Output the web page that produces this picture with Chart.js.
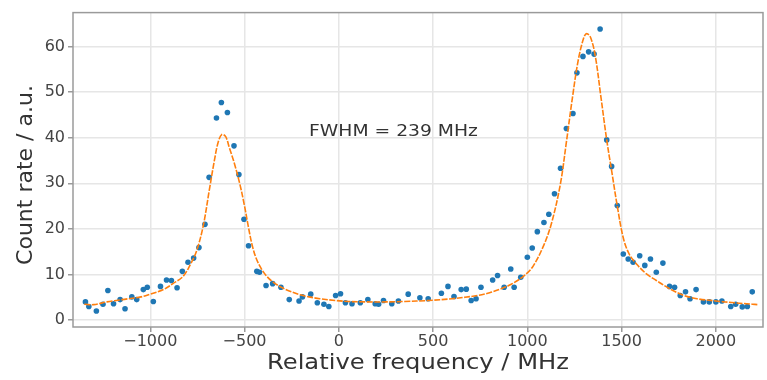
<!DOCTYPE html>
<html>
<head>
<meta charset="utf-8">
<script src="https://cdn.jsdelivr.net/npm/chart.js@4/dist/chart.umd.min.js"></script>
<style>
html,body{margin:0;padding:0;background:#fff;}
#wrap{width:767px;height:380px;}
</style>
</head>
<body>
<div id="wrap"><canvas id="c" width="767" height="380"></canvas></div>
<script>
// Measured data points (frequency in MHz, count rate in a.u.)
const measFreq = [-1344,-1326,-1286,-1251,-1225,-1195,-1160,-1134,-1098,-1072,-1037,-1016,-984,-946,-914,-888,-858,-830,-800,-770,-742,
  -710,-688,-649,-623,-591,-556,-530,-503,-479,-435,-421,-386,-351,-307,-263,-211,-193,-149,-114,-79,-53,-17,9,35,70,114,154,193,
  211,237,281,316,368,430,474,544,579,611,649,676,702,728,754,816,842,877,912,930,965,1000,1026,1053,1088,1114,1144,1176,1207,1242,
  1263,1295,1325,1354,1386,1421,1447,1477,1509,1535,1561,1596,1623,1653,1684,1719,1754,1781,1811,1839,1863,1895,1934,1965,2000,2032,
  2079,2105,2140,2167,2193];
const measRate = [4.0,3.0,2.0,3.5,6.5,3.6,4.5,2.5,5.1,4.5,6.7,7.2,4.1,7.4,8.8,8.7,7.1,10.7,12.7,13.6,15.9,
  21.0,31.3,44.3,47.7,45.5,38.2,31.9,22.1,16.3,10.7,10.5,7.6,8.0,7.2,4.5,4.2,5.1,5.7,3.8,3.5,3.0,5.4,5.8,3.8,3.6,3.8,4.5,3.6,
  3.5,4.3,3.6,4.2,5.7,4.9,4.7,5.9,7.4,5.2,6.7,6.8,4.3,4.7,7.2,8.8,9.8,7.2,11.2,7.2,9.4,13.8,15.8,19.4,21.4,23.2,27.7,33.3,42.0,45.3,
  54.2,57.8,58.8,58.3,63.8,39.5,33.7,25.1,14.5,13.4,12.7,14.1,12.0,13.4,10.5,12.5,7.4,7.2,5.4,6.2,4.7,6.7,4.0,4.0,4.0,4.2,
  3.0,3.5,2.9,3.0,6.2];

// Fitted curve
const fitFreq = [-1350,-1300,-1230,-1150,-1050,-1000,-930,-880,-826,-790,-756,-720,-685,-660,-640,-620,-600,-580,-555,-526,-500,
  -480,-460,-438,-410,-386,-351,-300,-263,-200,-158,-100,-17,50,150,250,350,474,600,737,800,850,912,982,1030,1088,1130,1176,1207,
  1240,1270,1300,1315,1335,1360,1390,1421,1450,1477,1509,1540,1579,1630,1684,1750,1825,1900,2000,2100,2193,2220];
const fitRate = [3.5,3.4,4.0,4.5,5.1,5.7,6.7,8.0,9.6,12.0,15.0,20.5,29,35,39,40.7,40.2,37.7,34.5,30,25,
  20.5,16.5,13.5,11.2,9.8,8.4,7.1,6.4,5.5,5.1,4.7,4.3,4.1,4.0,4.0,4.1,4.3,4.7,5.4,6.0,6.7,7.8,9.7,11.8,16.5,21.5,30,39,
  49,57,62,62.8,62,58,49,39.5,32,25,18,14.5,12.3,10.2,8.7,7.0,5.5,4.7,4.2,3.8,3.5,3.4];

const xTicks = [-1000,-500,0,500,1000,1500,2000];
const yTicks = [0,10,20,30,40,50,60];
const xRange = [-1410,2250];
const yRange = [-1.5,67.4];
const xTitle = 'Relative frequency / MHz';
const yTitle = 'Count rate / a.u.';
const annotationText = 'FWHM = 239 MHz';
const annotationAt = [290, 41.3];

const fmt = v => String(v).replace('-', '\u2212');

function stretchedText(ctx, text, x, y, sx) {
  ctx.save();
  ctx.translate(x, y);
  ctx.scale(sx, 1);
  ctx.fillText(text, 0, 0);
  ctx.restore();
}

const framePlugin = {
  id: 'frame',
  afterDraw(chart) {
    const {ctx, chartArea: a, scales} = chart;
    ctx.save();
    ctx.strokeStyle = '#9a9a9a';
    ctx.lineWidth = 1.5;
    ctx.strokeRect(a.left, a.top, a.right - a.left, a.bottom - a.top);
    ctx.fillStyle = '#333';
    ctx.textAlign = 'center';
    // annotation
    ctx.font = '16px "DejaVu Sans"';
    ctx.textBaseline = 'middle';
    stretchedText(ctx, annotationText, scales.x.getPixelForValue(annotationAt[0]), scales.y.getPixelForValue(annotationAt[1]), 1.17);
    // x axis title
    ctx.font = '22px "DejaVu Sans"';
    ctx.textBaseline = 'alphabetic';
    stretchedText(ctx, xTitle, (a.left + a.right) / 2, 369, 1.1);
    // y axis title (rotated)
    ctx.save();
    ctx.translate(32, 175);
    ctx.rotate(-Math.PI / 2);
    ctx.fillText(yTitle, 0, 0);
    ctx.restore();
    ctx.restore();
  }
};

new Chart(document.getElementById('c'), {
  type: 'scatter',
  data: {
    datasets: [
      {
        label: 'fit',
        type: 'line',
        data: fitFreq.map((f, i) => ({x: f, y: fitRate[i]})),
        borderColor: '#ff7f0e',
        borderWidth: 1.6,
        borderDash: [6, 1.5],
        pointRadius: 0,
        tension: 0.35,
        fill: false,
        order: 1
      },
      {
        label: 'data',
        data: measFreq.map((f, i) => ({x: f, y: measRate[i]})),
        backgroundColor: '#1f77b4',
        borderColor: '#1f77b4',
        pointRadius: 2.8,
        pointBorderWidth: 0,
        order: 2
      }
    ]
  },
  options: {
    responsive: false,
    animation: false,
    devicePixelRatio: 1,
    layout: {padding: {left: 0, right: 0, top: 10, bottom: 0}},
    plugins: {legend: {display: false}, tooltip: {enabled: false}},
    scales: {
      x: {
        type: 'linear',
        min: xRange[0], max: xRange[1],
        afterBuildTicks: s => { s.ticks = xTicks.map(v => ({value: v})); },
        afterFit: s => { s.height = 53; },
        grid: {color: '#e6e6e6', lineWidth: 1.5, tickLength: 5, tickColor: '#9a9a9a', drawTicks: true},
        border: {display: false},
        ticks: {color: '#444', font: {family: 'DejaVu Sans', size: 16}, padding: 0, maxRotation: 0, callback: v => fmt(v)},
        title: {display: false, text: xTitle}
      },
      y: {
        type: 'linear',
        min: yRange[0], max: yRange[1],
        afterBuildTicks: s => { s.ticks = yTicks.map(v => ({value: v})); },
        afterFit: s => { s.width = 73; },
        grid: {color: '#e6e6e6', lineWidth: 1.5, tickLength: 5, tickColor: '#9a9a9a', drawTicks: true},
        border: {display: false},
        ticks: {color: '#444', font: {family: 'DejaVu Sans', size: 16}, padding: 3, callback: v => fmt(v)},
        title: {display: false, text: yTitle}
      }
    }
  },
  plugins: [framePlugin]
});
</script>
</body>
</html>
